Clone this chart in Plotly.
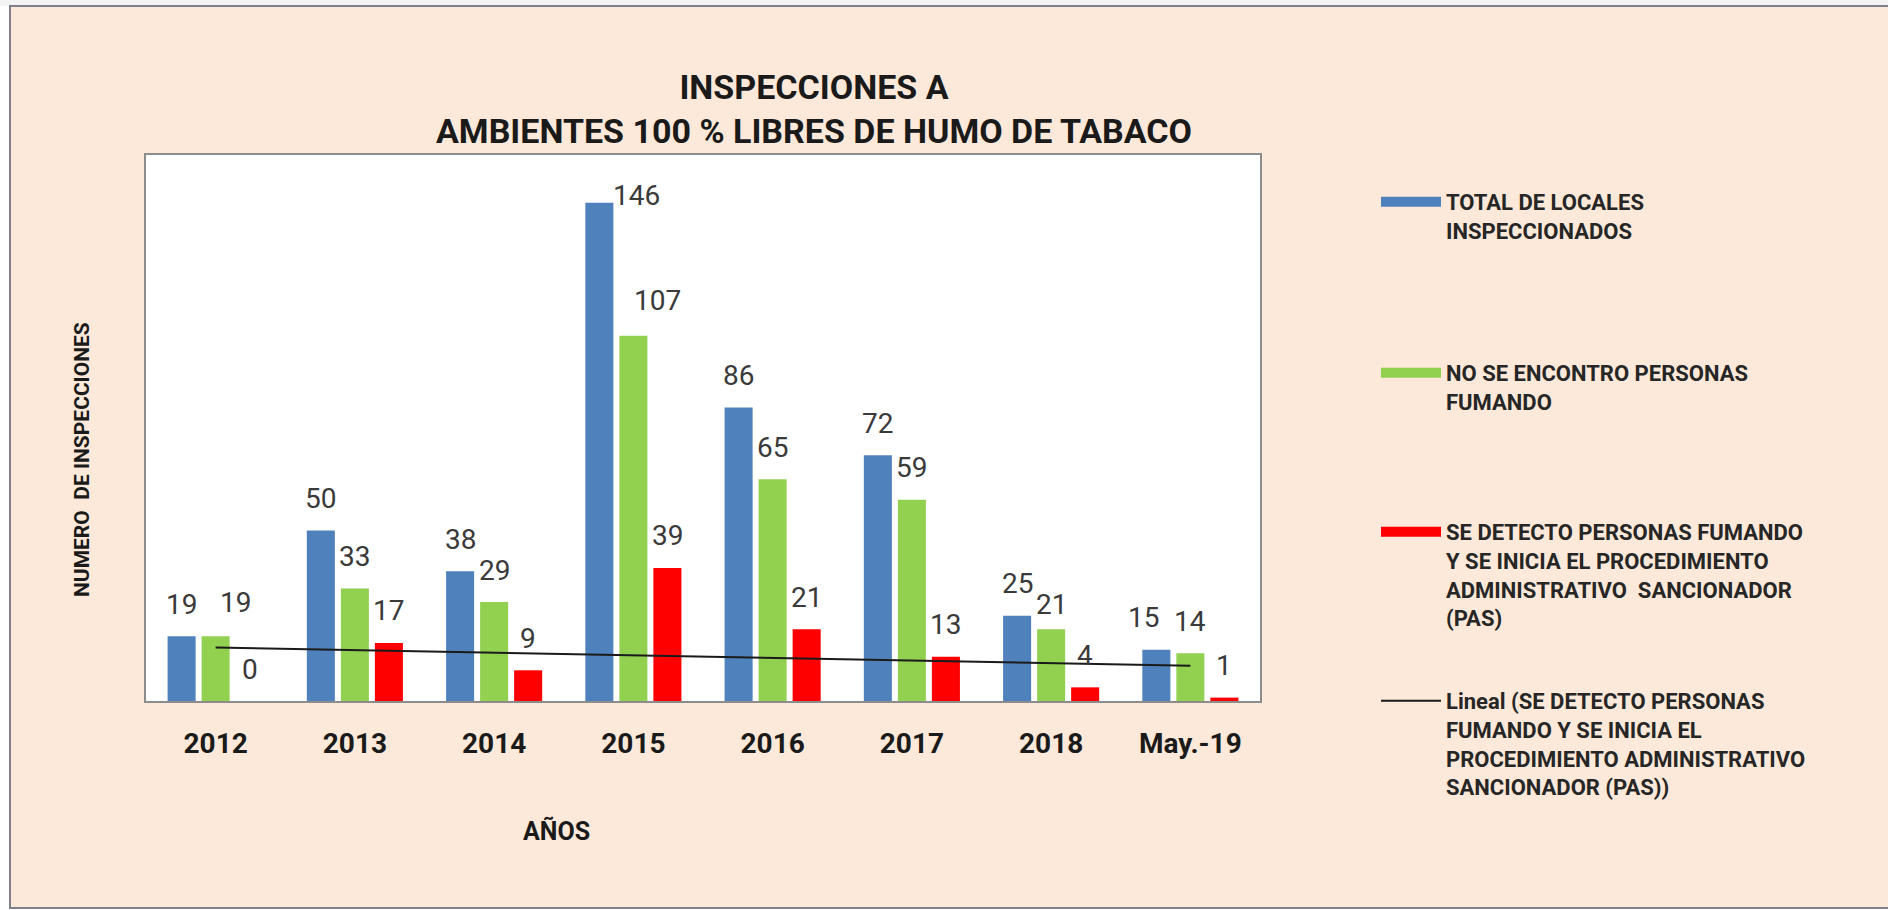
import numpy as np
import plotly.graph_objects as go

# ---------------- data ----------------
categorias = ["2012", "2013", "2014", "2015", "2016", "2017", "2018", "May.-19"]
total_locales = [19, 50, 38, 146, 86, 72, 25, 15]
no_fumando = [19, 33, 29, 107, 65, 59, 21, 14]
pas = [0, 17, 9, 39, 21, 13, 4, 1]

nombre_total = "TOTAL DE LOCALES<br>INSPECCIONADOS"
nombre_no = "NO SE ENCONTRO PERSONAS<br>FUMANDO"
nombre_pas = ("SE DETECTO PERSONAS FUMANDO<br>Y SE INICIA EL PROCEDIMIENTO<br>"
              "ADMINISTRATIVO  SANCIONADOR<br>(PAS)")
nombre_lineal = ("Lineal (SE DETECTO PERSONAS<br>FUMANDO Y SE INICIA EL<br>"
                 "PROCEDIMIENTO ADMINISTRATIVO<br>SANCIONADOR (PAS))")
titulo = "INSPECCIONES A<br>AMBIENTES 100 % LIBRES DE HUMO DE TABACO"
titulo_x = "AÑOS"
titulo_y = "NUMERO  DE INSPECCIONES"

# ---------------- styling / geometry ----------------
W, H = 1888, 910
L, R, T, B = 146, 1260, 155, 701          # plot area in pixels
AZUL, VERDE, ROJO = "#4F81BD", "#92D050", "#FF0000"
PEACH = "#FDE9D9"
FONT = "Roboto, Open Sans, DejaVu Sans, sans-serif"
BARGAP, BARGROUPGAP = 0.267, 0.176


def px_x(x):
    return (x - L) / (R - L)


def px_y(y):
    return (B - y) / (B - T)


fig = go.Figure()

series = [
    (total_locales, AZUL, nombre_total, "legend"),
    (no_fumando, VERDE, nombre_no, "legend2"),
    (pas, ROJO, nombre_pas, "legend3"),
]
for vals, color, name, leg in series:
    fig.add_trace(go.Bar(x=categorias, y=vals, name=name, marker_color=color,
                         marker_line_width=0, showlegend=False))

# linear trendline of the PAS series (as Excel's "Lineal")
idx = np.arange(1, len(pas) + 1)
coef = np.polyfit(idx, pas, 1)
tendencia = np.polyval(coef, idx)
fig.add_trace(go.Scatter(x=categorias, y=tendencia, mode="lines",
                         line=dict(color="#1a1a1a", width=2),
                         name=nombre_lineal, legend="legend4", showlegend=True,
                         hoverinfo="skip"))

# legend entries (wide flat swatches like the original)
for vals, color, name, leg in series:
    fig.add_trace(go.Scatter(x=[categorias[0]], y=[None], mode="lines",
                             line=dict(color=color, width=12),
                             name=name, legend=leg, showlegend=True))

# ---------------- data labels ----------------
cat_w = (R - L) / len(categorias)
slot = cat_w * (1 - BARGAP) / 3
base_off = 32
nudges = {  # (series index, category index): (dx, dy) in px
    (0, 3): (37, -25),
    (1, 3): (24, 3),
    (1, 0): (20, 2),
    (0, 7): (-13, 0),
    (1, 6): (0, -7),
}
annotations = []
for s, (vals, color, name, leg) in enumerate(series):
    for i, v in enumerate(vals):
        dx, dy = nudges.get((s, i), (0, 0))
        annotations.append(dict(
            x=i, y=v, xref="x", yref="y", text=str(v), showarrow=False,
            xshift=(s - 1) * slot + dx, yshift=base_off + dy,
            yanchor="middle", xanchor="center",
            font=dict(family=FONT, size=28, color="#3a3a3a")))

# axis titles
annotations.append(dict(x=px_x(556), y=px_y(831), xref="paper", yref="paper",
                        xanchor="center", yanchor="middle",
                        text=titulo_x, showarrow=False,
                        font=dict(family=FONT, size=25, color="#1a1a1a", weight="bold")))
annotations.append(dict(x=px_x(82), y=px_y(460), xref="paper", yref="paper",
                        xanchor="center", yanchor="middle",
                        text=titulo_y, showarrow=False, textangle=-90,
                        font=dict(family=FONT, size=21, color="#1a1a1a", weight="bold")))

# ---------------- frame / background shapes ----------------
shapes = [
    dict(type="rect", xref="paper", yref="paper", x0=px_x(-5), x1=px_x(10),
         y0=px_y(920), y1=px_y(-5), fillcolor="white", line_width=0, layer="below"),
    dict(type="rect", xref="paper", yref="paper", x0=px_x(-5), x1=px_x(1895),
         y0=px_y(6), y1=px_y(-5), fillcolor="#f4f4f4", line_width=0, layer="below"),
    dict(type="rect", xref="paper", yref="paper", x0=px_x(-5), x1=px_x(1895),
         y0=px_y(920), y1=px_y(908), fillcolor="white", line_width=0, layer="below"),
    dict(type="rect", xref="paper", yref="paper", x0=px_x(10), x1=px_x(1900),
         y0=px_y(908), y1=px_y(6), line=dict(color="#80808c", width=2),
         fillcolor="rgba(0,0,0,0)", layer="below"),
]

legend_common = dict(xanchor="left", yanchor="top", bgcolor="rgba(0,0,0,0)",
                     borderwidth=0, itemwidth=60, valign="top",
                     font=dict(family=FONT, size=22, color="#262626", weight="bold"),
                     itemclick=False, itemdoubleclick=False)

leg_x = px_x(1376)

fig.update_layout(
    width=W, height=H,
    margin=dict(l=L, r=W - R, t=T, b=H - B, pad=0),
    paper_bgcolor=PEACH, plot_bgcolor="white",
    barmode="group", bargap=BARGAP, bargroupgap=BARGROUPGAP,
    title=dict(text=titulo, x=814 / W, xref="container", xanchor="center",
               y=1 - 99 / H, yref="container", yanchor="middle",
               font=dict(family=FONT, size=34, color="#1a1a1a", weight="bold")),
    xaxis=dict(type="category", categoryorder="array", categoryarray=categorias,
               range=[-0.5, len(categorias) - 0.5], autorange=False,
               showline=True, linecolor="#8c8c8c", linewidth=2, mirror=True,
               showgrid=False, zeroline=False, ticks="outside", ticklen=16,
               tickcolor="rgba(0,0,0,0)",
               tickfont=dict(family=FONT, size=28, color="#1a1a1a", weight="bold")),
    yaxis=dict(range=[0, 160], autorange=False, showline=True, linecolor="#8c8c8c",
               linewidth=2, mirror=True, showgrid=False, zeroline=False,
               showticklabels=False, ticks=""),
    legend=dict(x=leg_x, y=px_y(181), **legend_common),
    legend2=dict(x=leg_x, y=px_y(352), **legend_common),
    legend3=dict(x=leg_x, y=px_y(511), **legend_common),
    legend4=dict(x=leg_x, y=px_y(680), **legend_common),
    annotations=annotations,
    shapes=shapes,
    showlegend=True,
)

fig.write_html("out.html", config={"displayModeBar": False},
               post_script="document.body.style.margin='0';document.body.style.overflow='hidden';")
